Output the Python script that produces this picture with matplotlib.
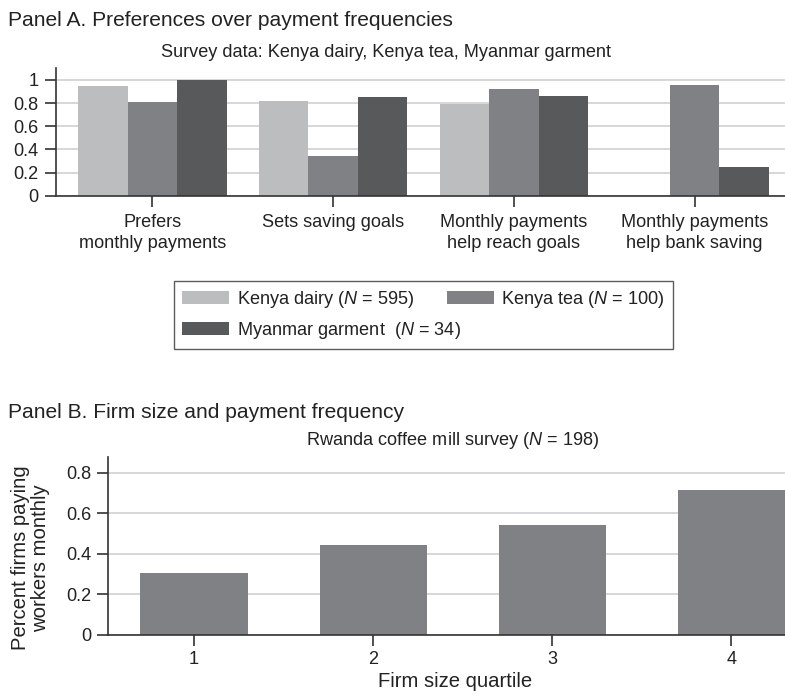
import matplotlib
matplotlib.use('Agg')
import matplotlib.pyplot as plt
import numpy as np

plt.rcParams['font.family'] = ['Liberation Sans', 'DejaVu Sans']
plt.rcParams['mathtext.fontset'] = 'custom'
plt.rcParams['mathtext.rm'] = 'Liberation Sans'
plt.rcParams['mathtext.it'] = 'Liberation Sans:italic'

# Panel A data: share of respondents answering yes
questions = ["Prefers\nmonthly payments", "Sets saving goals",
             "Monthly payments\nhelp reach goals", "Monthly payments\nhelp bank saving"]
kenya_dairy = [0.948, 0.82, 0.795, np.nan]
kenya_tea = [0.81, 0.34, 0.92, 0.957]
myanmar_garment = [1.0, 0.853, 0.864, 0.248]
series_labels = [r"Kenya dairy ($N$ = 595)", r"Kenya tea ($N$ = 100)",
                 r"Myanmar garment  ($N$ = 34)"]

# Panel B data: share of firms paying monthly by size quartile
quartiles = [1, 2, 3, 4]
share_monthly = [0.305, 0.44, 0.54, 0.714]

light = '#bcbdbf'
mid = '#808184'
dark = '#58595b'
grid_col = '#d4d4d4'
axis_col = '#333333'
text_col = '#222222'

W, H = 785, 698
fig = plt.figure(figsize=(W/100.0, H/100.0), dpi=100)

def fx(px):
	return px/float(W)

def fy(py):
	return 1.0 - py/float(H)

def style_axes(ax):
	for s in ['top', 'right']:
		ax.spines[s].set_visible(False)
	for s in ['left', 'bottom']:
		ax.spines[s].set_color(axis_col)
		ax.spines[s].set_linewidth(1.2)
	ax.tick_params(axis='both', length=8, width=1.2, color=axis_col, labelsize=13.1,
		labelcolor=text_col, pad=4)
	ax.yaxis.grid(True, color=grid_col, linewidth=1.3)
	ax.set_axisbelow(True)

def fmt(v):
	return "%g" % v

# ---- Panel A ----
axA = fig.add_axes([fx(55.5), fy(195.7), fx(785) - fx(55.5), fy(68.3) - fy(195.7)])
style_axes(axA)
x = np.arange(len(questions))
w = 0.274
colors = [light, mid, dark]
bars = []
for k, vals in enumerate([kenya_dairy, kenya_tea, myanmar_garment]):
	b = axA.bar(x + (k - 1)*w, vals, width=w, color=colors[k], label=series_labels[k], zorder=2)
	bars.append(b)
axA.set_xlim(-0.536, 3.5)
axA.set_ylim(0, 1.10)
yt = [0, 0.2, 0.4, 0.6, 0.8, 1.0]
axA.set_yticks(yt)
axA.set_yticklabels([fmt(v) for v in yt])
axA.set_xticks(x)
axA.set_xticklabels(questions, linespacing=1.3)
axA.tick_params(axis='x', pad=5)

fig.text(fx(8), fy(25.7), "Panel A. Preferences over payment frequencies", fontsize=15.1,
	ha='left', va='baseline', color=text_col)
fig.text(fx(386), fy(57), "Survey data: Kenya dairy, Kenya tea, Myanmar garment", fontsize=13.1,
	ha='center', va='baseline', color=text_col)

# legend rows: dairy, tea / garment
handles = [bars[0], bars[2], bars[1]]
labels = [series_labels[0], series_labels[2], series_labels[1]]
leg = fig.legend(handles, labels, ncol=2, loc='upper left',
	bbox_to_anchor=(fx(174), fy(344), fx(673) - fx(174), fy(281) - fy(344)),
	mode='expand', borderaxespad=0, fontsize=13.1, frameon=True, fancybox=False,
	handlelength=2.6, handleheight=0.7, handletextpad=0.4, labelspacing=0.55,
	columnspacing=1.3, borderpad=0.45)
leg.get_frame().set_edgecolor(axis_col)
leg.get_frame().set_linewidth(1.0)
for t in leg.get_texts():
	t.set_color(text_col)

# ---- Panel B ----
axB = fig.add_axes([fx(107.7), fy(634.7), fx(785) - fx(107.7), fy(457.3) - fy(634.7)])
style_axes(axB)
axB.bar(quartiles, share_monthly, width=0.6, color=mid, zorder=2)
axB.set_xlim(0.517, 4.3)
axB.set_ylim(0, 0.875)
yt = [0, 0.2, 0.4, 0.6, 0.8]
axB.set_yticks(yt)
axB.set_yticklabels([fmt(v) for v in yt])
axB.set_xticks(quartiles)
axB.tick_params(axis='x', pad=4)
axB.set_ylabel("Percent firms paying\nworkers monthly", fontsize=14.6, linespacing=1.05,
	color=text_col)
axB.yaxis.set_label_coords(-0.085, 0.432)
axB.set_xlabel("Firm size quartile", fontsize=14.6, color=text_col)
axB.xaxis.set_label_coords(0.513, -0.21)

fig.text(fx(8), fy(418), "Panel B. Firm size and payment frequency", fontsize=15.1,
	ha='left', va='baseline', color=text_col)
fig.text(fx(453), fy(445), r"Rwanda coffee mill survey ($N$ = 198)", fontsize=13.1,
	ha='center', va='baseline', color=text_col)

plt.savefig('out.png', dpi=100)
